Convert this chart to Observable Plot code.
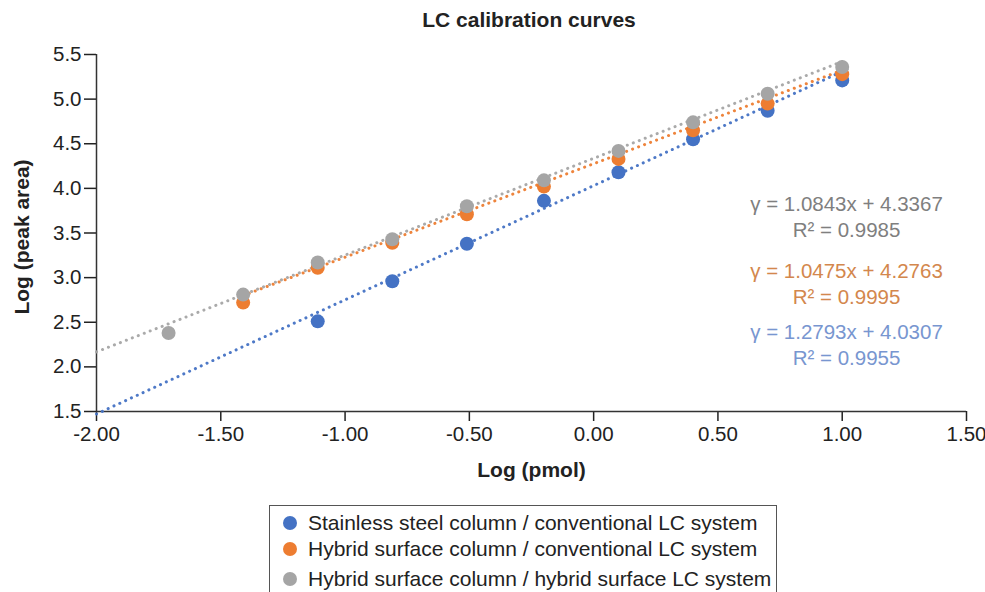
<!DOCTYPE html>
<html><head><meta charset="utf-8">
<script src="https://cdn.jsdelivr.net/npm/d3@7"></script>
<script src="https://cdn.jsdelivr.net/npm/@observablehq/plot@0.6"></script>
<style>
body{margin:0;background:#fff;font-family:"Liberation Sans",Arial,Helvetica,sans-serif;}
#wrap{position:relative;width:985px;height:592px;overflow:hidden;background:#fff}
#title{position:absolute;top:8px;left:0;width:1058px;text-align:center;font-weight:bold;font-size:21px;line-height:24px;color:#222}
#chart{position:absolute;top:40px;left:0}
#legend{position:absolute;left:269px;top:505px;width:508px;height:110px;border:1.5px solid #555;box-sizing:border-box}
.row{position:absolute;left:0;height:24px;display:flex;align-items:center;font-size:21px;color:#222;white-space:nowrap}
.dot{width:14px;height:14px;border-radius:50%;margin-left:13px;margin-right:11px;filter:blur(0.4px)}
</style>
</head><body>
<div id="wrap">
  <div id="title"></div>
  <div id="chart"></div>
  <div id="legend"></div>
</div>
<script>
// ---- data ----
const chartTitle = "LC calibration curves";
const xTitle = "Log (pmol)";
const yTitle = "Log (peak area)";
const logPmol = [-1.71, -1.41, -1.11, -0.81, -0.51, -0.20, 0.10, 0.40, 0.70, 1.00];
const stainlessConv = [null, null, 2.51, 2.96, 3.38, 3.86, 4.18, 4.55, 4.87, 5.21];
const hybridConv    = [null, 2.72, 3.11, 3.39, 3.71, 4.02, 4.33, 4.65, 4.95, 5.28];
const hybridHybrid  = [2.38, 2.81, 3.17, 3.43, 3.80, 4.09, 4.42, 4.74, 5.06, 5.36];
const seriesNames = [
  "Stainless steel column / conventional LC system",
  "Hybrid surface column / conventional LC system",
  "Hybrid surface column / hybrid surface LC system"
];
const slopes = [1.2793, 1.0475, 1.0843];
const intercepts = [4.0307, 4.2763, 4.3367];
const r2 = [0.9955, 0.9995, 0.9985];
const fitStart = [-2.00, -1.41, -2.00];
const fitEnd = [1.02, 1.02, 1.02];
const xTicks = [-2, -1.5, -1, -0.5, 0, 0.5, 1, 1.5];
const yTicks = [1.5, 2, 2.5, 3, 3.5, 4, 4.5, 5, 5.5];

// ---- styles ----
const colors = ["#4472C4", "#ED7D31", "#A5A5A5"];
const textColors = ["#7896d0", "#d3874d", "#7f7f7f"];
const eqDy = [289, 228.5, 161.5];

const allSeries = [stainlessConv, hybridConv, hybridHybrid];
const points = [];
allSeries.forEach((vals, s) => vals.forEach((v, i) => {
  if (v != null) points.push({series: seriesNames[s], s, x: logPmol[i], y: v});
}));
const fits = [];
seriesNames.forEach((name, s) => {
  [fitStart[s], fitEnd[s]].forEach(x => fits.push({series: name, s, x, y: slopes[s] * x + intercepts[s]}));
});

document.getElementById("title").textContent = chartTitle;

const marks = [
  Plot.axisX({ticks: xTicks, tickSize: 10, tickPadding: 5, fontSize: 20.5, tickFormat: d => d.toFixed(2), label: null, stroke: "#222", strokeWidth: 1.5, color: "#222"}),
  Plot.axisY({ticks: yTicks, tickSize: 12, tickPadding: 3, fontSize: 20.5, tickFormat: d => d.toFixed(1), label: null, stroke: "#222", strokeWidth: 1.5, color: "#222"}),
  Plot.ruleX([-2], {stroke: "#333", strokeWidth: 1.5}),
  Plot.ruleY([1.5], {stroke: "#333", strokeWidth: 1.5}),
  Plot.text([xTitle], {frameAnchor: "bottom", dy: 65, fontSize: 21, fontWeight: "bold", fill: "#222", text: d => d}),
  Plot.text([yTitle], {frameAnchor: "middle", dx: -509, dy: 4, rotate: -90, fontSize: 21, fontWeight: "bold", fill: "#222", text: d => d})
];
seriesNames.forEach((name, s) => {
  marks.push(Plot.line(fits.filter(d => d.s === s), {x: "x", y: "y", stroke: colors[s], strokeWidth: 3, strokeDasharray: "0.1 6.3", strokeLinecap: "round", strokeOpacity: 0.95}));
});
seriesNames.forEach((name, s) => {
  marks.push(Plot.dot(points.filter(d => d.s === s), {x: "x", y: "y", r: 7, fill: colors[s], stroke: "none"}));
});
seriesNames.forEach((name, s) => {
  const label = `γ = ${slopes[s].toFixed(4)}x + ${intercepts[s].toFixed(4)}\nR² = ${r2[s].toFixed(4)}`;
  marks.push(Plot.text([label], {frameAnchor: "top-right", lineAnchor: "middle", dx: -120, dy: eqDy[s], textAnchor: "middle", lineHeight: 1.25, fontSize: 20.5, fill: textColors[s], text: d => d}));
});

const plot = Plot.plot({
  width: 985, height: 450,
  marginLeft: 96, marginRight: 19, marginTop: 14, marginBottom: 79,
  style: {fontFamily: '"Liberation Sans", Arial, sans-serif', background: "#fff", overflow: "visible"},
  x: {domain: [-2, 1.5]},
  y: {domain: [1.5, 5.5]},
  marks
});
document.getElementById("chart").appendChild(plot);

const legend = document.getElementById("legend");
const rowTops = [5, 31, 61];
[0, 1, 2].forEach(s => {
  const row = document.createElement("div");
  row.className = "row";
  row.style.top = rowTops[s] + "px";
  const dot = document.createElement("span");
  dot.className = "dot";
  dot.style.background = colors[s];
  const t = document.createElement("span");
  t.textContent = seriesNames[s];
  row.appendChild(dot); row.appendChild(t);
  legend.appendChild(row);
});
</script>
</body></html>
